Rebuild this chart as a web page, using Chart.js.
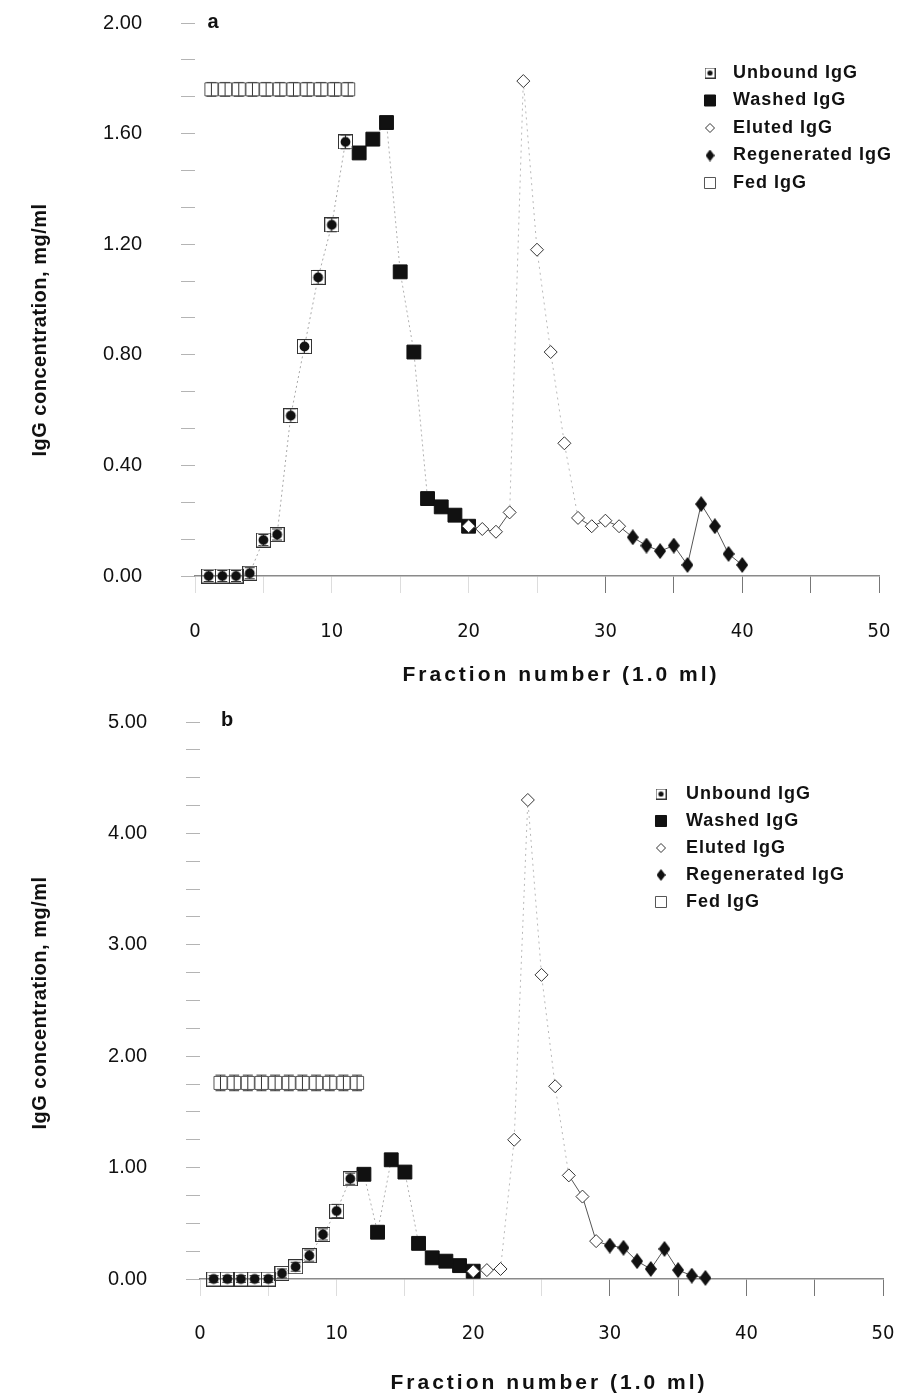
<!DOCTYPE html>
<html>
<head>
<meta charset="utf-8">
<script src="https://cdn.jsdelivr.net/npm/chart.js@4.4.1/dist/chart.umd.min.js"></script>
<style>
  body { margin: 0; background: #fff; }
  canvas { display: block; }
</style>
</head>
<body>
<canvas id="chartA" width="898" height="700"></canvas>
<canvas id="chartB" width="898" height="699"></canvas>
<script>
// ---- panel a ----
const unboundFracA = [1, 2, 3, 4, 5, 6, 7, 8, 9, 10, 11];
const unboundA = [0.00, 0.00, 0.00, 0.01, 0.13, 0.15, 0.58, 0.83, 1.08, 1.27, 1.57];
const unboundErrA = [0.02, 0.02, 0.02, 0.02, 0.02, 0.02, 0.025, 0.025, 0.025, 0.025, 0.025];
const washedFracA = [12, 13, 14, 15, 16, 17, 18, 19, 20];
const washedA = [1.53, 1.58, 1.64, 1.10, 0.81, 0.28, 0.25, 0.22, 0.18];
const elutedFracA = [20, 21, 22, 23, 24, 25, 26, 27, 28, 29, 30, 31];
const elutedA = [0.18, 0.17, 0.16, 0.23, 1.79, 1.18, 0.81, 0.48, 0.21, 0.18, 0.20, 0.18];
const regenFracA = [31, 32, 33, 34, 35, 36, 37, 38, 39, 40];
const regenA = [0.18, 0.14, 0.11, 0.09, 0.11, 0.04, 0.26, 0.18, 0.08, 0.04];
const fedFracA = [1.2, 2.2, 3.2, 4.2, 5.2, 6.2, 7.2, 8.2, 9.2, 10.2, 11.2];
const fedA = [1.76, 1.76, 1.76, 1.76, 1.76, 1.76, 1.76, 1.76, 1.76, 1.76, 1.76];
const fedErrA = [0.025, 0.025, 0.025, 0.025, 0.025, 0.025, 0.025, 0.025, 0.025, 0.025, 0.025];

// ---- panel b ----
const unboundFracB = [1, 2, 3, 4, 5, 6, 7, 8, 9, 10, 11];
const unboundB = [0.00, 0.00, 0.00, 0.00, 0.00, 0.05, 0.11, 0.21, 0.40, 0.61, 0.90];
const unboundErrB = [0.03, 0.03, 0.03, 0.03, 0.03, 0.04, 0.04, 0.05, 0.05, 0.06, 0.05];
const washedFracB = [12, 13, 14, 15, 16, 17, 18, 19, 20];
const washedB = [0.94, 0.42, 1.07, 0.96, 0.32, 0.19, 0.16, 0.12, 0.07];
const elutedFracB = [20, 21, 22, 23, 24, 25, 26, 27, 28, 29];
const elutedB = [0.07, 0.08, 0.09, 1.25, 4.30, 2.73, 1.73, 0.93, 0.74, 0.34];
const regenFracB = [29, 30, 31, 32, 33, 34, 35, 36, 37];
const regenB = [0.34, 0.30, 0.28, 0.16, 0.09, 0.27, 0.08, 0.03, 0.01];
const fedFracB = [1.5, 2.5, 3.5, 4.5, 5.5, 6.5, 7.5, 8.5, 9.5, 10.5, 11.5];
const fedB = [1.76, 1.76, 1.76, 1.76, 1.76, 1.76, 1.76, 1.76, 1.76, 1.76, 1.76];
const fedErrB = [0.07, 0.07, 0.07, 0.07, 0.07, 0.07, 0.07, 0.07, 0.07, 0.07, 0.07];

const seriesLabels = ['Unbound IgG', 'Washed IgG', 'Eluted IgG', 'Regenerated IgG', 'Fed IgG'];
const xTitle = 'Fraction number (1.0 ml)';
const yTitle = 'IgG concentration, mg/ml';

const FONT = '"Liberation Sans", Arial, Helvetica, sans-serif';
const NARROW = '"Liberation Sans Narrow", "DejaVu Sans Condensed", "Liberation Sans", Arial, sans-serif';
Chart.defaults.font.family = FONT;
Chart.defaults.color = '#111';

// marker images
function squareDot(side, dot) {
    const c = document.createElement('canvas');
    c.width = side; c.height = side;
    const g = c.getContext('2d');
    g.strokeStyle = '#333';
    g.lineWidth = 1;
    g.strokeRect(0.5, 0.5, side - 1, side - 1);
    g.fillStyle = '#111';
    g.beginPath();
    g.arc(side / 2, side / 2, dot, 0, Math.PI * 2);
    g.fill();
    return c;
}
function tallDiamond(w, h) {
    const c = document.createElement('canvas');
    c.width = w; c.height = h;
    const g = c.getContext('2d');
    g.fillStyle = '#111';
    g.beginPath();
    g.moveTo(w / 2, 0); g.lineTo(w, h / 2); g.lineTo(w / 2, h); g.lineTo(0, h / 2);
    g.closePath();
    g.fill();
    return c;
}
const unboundIcon = squareDot(15, 4.9);
const unboundIconSmall = squareDot(11, 2.6);
const regenIcon = tallDiamond(12, 16);
const regenIconSmall = tallDiamond(9, 12);

function pts(xs, ys) {
    return xs.map((x, i) => ({ x: x, y: ys[i] }));
}

// error bars drawn through the y scale
const errorBars = {
    id: 'errorBars',
    beforeDatasetsDraw(chart) {
        const ctx = chart.ctx;
        const y = chart.scales.y;
        chart.data.datasets.forEach((ds, i) => {
            if (!ds.errors) return;
            const meta = chart.getDatasetMeta(i);
            ctx.save();
            ctx.strokeStyle = '#333';
            ctx.lineWidth = 1;
            meta.data.forEach((pt, j) => {
                const v = ds.data[j].y, e = ds.errors[j];
                const top = y.getPixelForValue(v + e), bot = y.getPixelForValue(v - e);
                ctx.beginPath();
                ctx.moveTo(pt.x, top); ctx.lineTo(pt.x, bot);
                ctx.moveTo(pt.x - 5, top); ctx.lineTo(pt.x + 5, top);
                ctx.moveTo(pt.x - 5, bot); ctx.lineTo(pt.x + 5, bot);
                ctx.stroke();
            });
            ctx.restore();
        });
    }
};

// titles, panel letter and legend
const annotate = {
    id: 'annotate',
    afterDraw(chart, args, o) {
        const ctx = chart.ctx;
        ctx.save();
        ctx.fillStyle = '#111';
        ctx.textBaseline = 'middle';
        ctx.textAlign = 'center';

        ctx.font = 'bold 20px ' + FONT;
        ctx.fillText(o.letter, o.letterX, o.letterY);

        ctx.font = 'bold 21px ' + FONT;
        ctx.letterSpacing = '3px';
        ctx.fillText(xTitle, o.xTitleX, o.xTitleY);

        ctx.save();
        ctx.translate(o.yTitleX, o.yTitleY);
        ctx.rotate(-Math.PI / 2);
        ctx.font = 'bold 20px ' + FONT;
        ctx.letterSpacing = '0.5px';
        ctx.fillText(yTitle, 0, 0);
        ctx.restore();

        ctx.font = 'bold 18px ' + FONT;
        ctx.letterSpacing = '1px';
        ctx.textAlign = 'left';
        chart.data.datasets.forEach((ds, i) => {
            const y = o.legendY + i * o.legendDy;
            ctx.save();
            ctx.fillStyle = ds.pointBackgroundColor || '#111';
            ctx.strokeStyle = ds.pointBorderColor || '#111';
            ctx.lineWidth = 1;
            Chart.helpers.drawPoint(ctx, {
                pointStyle: ds.legendStyle || ds.pointStyle,
                radius: ds.legendRadius,
                borderWidth: 1,
                rotation: 0
            }, o.legendX, y);
            ctx.restore();
            ctx.fillText(ds.label, o.legendTextX, y);
        });
        ctx.restore();
    }
};

function makeChart(id, p) {
    const faint = c => Math.max(c.p0.parsed.y, c.p1.parsed.y) > p.faintAbove;
    const datasets = [
        {
            label: seriesLabels[0],
            data: pts(p.unboundFrac, p.unbound),
            errors: p.unboundErr,
            pointStyle: unboundIcon,
            legendStyle: unboundIconSmall,
            legendRadius: 5,
            pointRadius: 7.5,
            showLine: true,
            borderColor: '#a8a8a8',
            borderWidth: 1,
            borderDash: [2, 3],
            order: 1
        },
        {
            label: seriesLabels[1],
            data: pts(p.washedFrac, p.washed),
            pointStyle: 'rect',
            pointRadius: 9.8,
            pointBackgroundColor: '#111',
            pointBorderColor: '#111',
            legendRadius: 7.8,
            showLine: true,
            borderColor: '#b0b0b0',
            borderWidth: 1,
            borderDash: [2, 3],
            order: 2
        },
        {
            label: seriesLabels[2],
            data: pts(p.elutedFrac, p.eluted),
            pointStyle: 'rectRot',
            pointRadius: 6.5,
            pointBackgroundColor: '#fff',
            pointBorderColor: '#333',
            pointBorderWidth: 1,
            legendRadius: 4.5,
            showLine: true,
            borderColor: '#555',
            borderWidth: 1,
            segment: {
                borderColor: c => faint(c) ? '#b8b8b8' : '#555',
                borderDash: c => faint(c) ? [2, 4] : []
            },
            order: 0
        },
        {
            label: seriesLabels[3],
            data: pts(p.regenFrac, p.regen),
            pointStyle: regenIcon,
            legendStyle: regenIconSmall,
            legendRadius: 5,
            pointRadius: c => c.dataIndex === 0 ? 0 : 7,
            showLine: true,
            borderColor: '#555',
            borderWidth: 1,
            order: 1
        },
        {
            label: seriesLabels[4],
            data: pts(p.fedFrac, p.fed),
            errors: p.fedErr,
            pointStyle: 'rect',
            pointRadius: 9.2,
            pointBackgroundColor: 'rgba(0,0,0,0)',
            pointBorderColor: '#555',
            pointBorderWidth: 1,
            legendRadius: 7.8,
            showLine: false,
            order: 3
        }
    ];
    datasets.forEach(d => { d.clip = false; });

    return new Chart(document.getElementById(id), {
        type: 'scatter',
        data: { datasets: datasets },
        options: {
            responsive: false,
            animation: false,
            events: [],
            layout: { padding: { top: p.padTop, right: p.padRight, left: 0, bottom: 0 } },
            scales: {
                x: {
                    type: 'linear',
                    min: 0,
                    max: 50,
                    afterFit: s => {
                        s.height = p.xAxisHeight;
                        s.paddingLeft = 0;
                        s.paddingRight = 0;
                    },
                    ticks: {
                        stepSize: 5,
                        autoSkip: false,
                        maxRotation: 0,
                        padding: p.xTickPad,
                        font: { family: NARROW, size: 20 },
                        callback: v => v % 10 === 0 ? String(v) : ''
                    },
                    grid: {
                        drawOnChartArea: false,
                        tickLength: 17,
                        color: c => c.tick && c.tick.value >= 30 ? '#777' : '#dddddd'
                    },
                    border: { display: true, color: '#8a8a8a', width: 1.5 }
                },
                y: {
                    min: 0,
                    max: p.yMax,
                    afterFit: s => {
                        s.width = p.yAxisWidth;
                        s.paddingTop = 0;
                        s.paddingBottom = 0;
                    },
                    ticks: {
                        stepSize: p.yStep,
                        autoSkip: false,
                        padding: 39,
                        font: { size: 20 },
                        callback: (v, i) => i % p.yLabelEvery === 0 ? v.toFixed(2) : ''
                    },
                    grid: {
                        drawOnChartArea: false,
                        tickLength: 14,
                        color: '#b4b4b4'
                    },
                    border: { display: false }
                }
            },
            plugins: {
                legend: { display: false },
                tooltip: { enabled: false },
                annotate: p.annotate
            }
        },
        plugins: [errorBars, annotate]
    });
}

makeChart('chartA', {
    unboundFrac: unboundFracA, unbound: unboundA, unboundErr: unboundErrA,
    washedFrac: washedFracA, washed: washedA,
    elutedFrac: elutedFracA, eluted: elutedA,
    regenFrac: regenFracA, regen: regenA,
    fedFrac: fedFracA, fed: fedA, fedErr: fedErrA,
    faintAbove: 0.3,
    yMax: 2, yStep: 2 / 15, yLabelEvery: 3,
    padTop: 23, padRight: 19, yAxisWidth: 195, xAxisHeight: 124, xTickPad: 27,
    annotate: {
        letter: 'a', letterX: 213, letterY: 22,
        xTitleX: 561, xTitleY: 675,
        yTitleX: 40, yTitleY: 330,
        legendX: 710, legendTextX: 733, legendY: 73, legendDy: 27.5
    }
});

makeChart('chartB', {
    unboundFrac: unboundFracB, unbound: unboundB, unboundErr: unboundErrB,
    washedFrac: washedFracB, washed: washedB,
    elutedFrac: elutedFracB, eluted: elutedB,
    regenFrac: regenFracB, regen: regenB,
    fedFrac: fedFracB, fed: fedB, fedErr: fedErrB,
    faintAbove: 1.0,
    yMax: 5, yStep: 0.25, yLabelEvery: 4,
    padTop: 22, padRight: 15, yAxisWidth: 200, xAxisHeight: 120, xTickPad: 26,
    annotate: {
        letter: 'b', letterX: 227, letterY: 20,
        xTitleX: 549, xTitleY: 683,
        yTitleX: 40, yTitleY: 303,
        legendX: 661, legendTextX: 686, legendY: 94, legendDy: 27
    }
});
</script>
</body>
</html>
